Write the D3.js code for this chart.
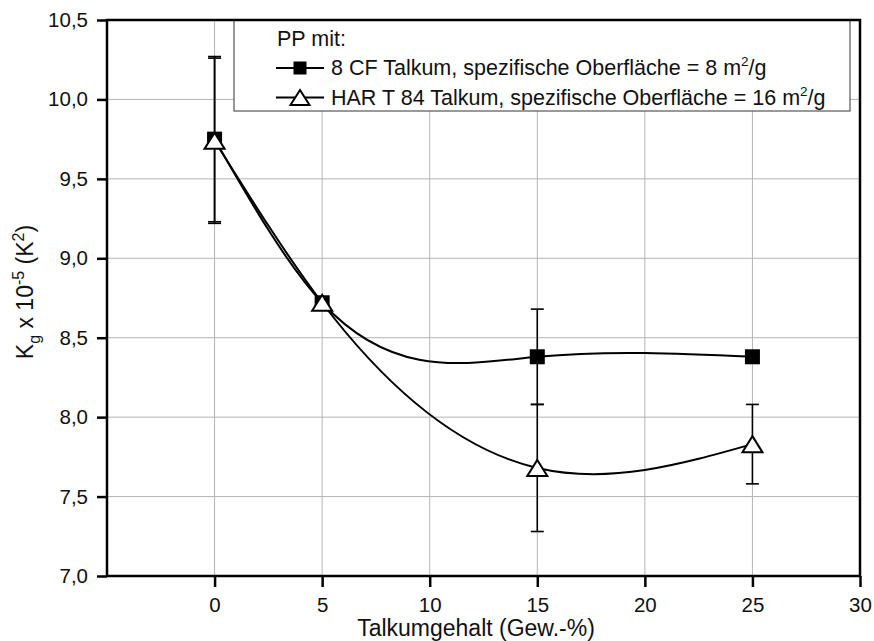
<!DOCTYPE html>
<html>
<head>
<meta charset="utf-8">
<script src="https://cdn.jsdelivr.net/npm/d3@7"></script>
<style>
  html, body { margin: 0; padding: 0; background: #fff; }
  svg { display: block; font-family: "Liberation Sans", Arial, sans-serif; }
</style>
</head>
<body>
<svg id="chart" width="874" height="641"></svg>
<script>
// ---- data ----
const xValues = [0, 5, 15, 25];
const cfValues = [9.75, 8.72, 8.38, 8.38];
const cfErrors = [0.52, 0, 0.30, 0];
const harValues = [9.74, 8.72, 7.68, 7.83];
const harErrors = [0.52, 0, 0.40, 0.25];
const xTicks = [0, 5, 10, 15, 20, 25, 30];
const yTicks = [7.0, 7.5, 8.0, 8.5, 9.0, 9.5, 10.0, 10.5];
const legendTitle = "PP mit:";
const seriesNames = ["8 CF Talkum, spezifische Oberfläche = 8 m", "HAR T 84 Talkum, spezifische Oberfläche = 16 m"];

// ---- custom curve: natural cubic spline y(x), emitted as exact Bezier segments ----
function NaturalX(context) { this._context = context; }
NaturalX.prototype = {
  areaStart() { this._line = 0; },
  areaEnd() { this._line = NaN; },
  lineStart() { this._x = []; this._y = []; },
  point(x, y) { this._x.push(+x); this._y.push(+y); },
  lineEnd() {
    const X = this._x, Y = this._y, n = X.length, c = this._context;
    if (!n) return;
    c.moveTo(X[0], Y[0]);
    if (n < 3) { for (let i = 1; i < n; i++) c.lineTo(X[i], Y[i]); return; }
    const h = [], s = [];
    for (let i = 0; i < n - 1; i++) { h.push(X[i + 1] - X[i]); s.push((Y[i + 1] - Y[i]) / h[i]); }
    const m = n - 2, a = [], b = [], cc = [], r = [];
    for (let k = 0; k < m; k++) {
      const i = k + 1;
      a.push(h[i - 1]); b.push(2 * (h[i - 1] + h[i])); cc.push(h[i]); r.push(6 * (s[i] - s[i - 1]));
    }
    for (let k = 1; k < m; k++) {
      const w = a[k] / b[k - 1];
      b[k] -= w * cc[k - 1]; r[k] -= w * r[k - 1];
    }
    const M = new Array(n).fill(0);
    for (let k = m - 1; k >= 0; k--) {
      M[k + 1] = (r[k] - (k < m - 1 ? cc[k] * M[k + 2] : 0)) / b[k];
    }
    for (let i = 0; i < n - 1; i++) {
      const d0 = s[i] - h[i] * (2 * M[i] + M[i + 1]) / 6;
      const d1 = s[i] + h[i] * (M[i] + 2 * M[i + 1]) / 6;
      c.bezierCurveTo(X[i] + h[i] / 3, Y[i] + d0 * h[i] / 3,
                      X[i + 1] - h[i] / 3, Y[i + 1] - d1 * h[i] / 3,
                      X[i + 1], Y[i + 1]);
    }
  }
};
const curveNaturalX = ctx => new NaturalX(ctx);

// ---- layout ----
const svg = d3.select("#chart");
const pLeft = 107, pRight = 860, pTop = 20, pBottom = 576;
const x = d3.scaleLinear().domain([-5, 30]).range([pLeft, pRight]);
const y = d3.scaleLinear().domain([7.0, 10.5]).range([pBottom, pTop]);
const fmt = d => d3.format(".1f")(d).replace(".", ",");

// grid
const grid = svg.append("g").attr("stroke", "#b4b4b4").attr("stroke-width", 1);
xTicks.filter(t => t < 30).forEach(t => {
  grid.append("line").attr("x1", x(t)).attr("x2", x(t)).attr("y1", pTop).attr("y2", pBottom);
});
yTicks.filter(t => t > 7 && t < 10.5).forEach(t => {
  grid.append("line").attr("x1", pLeft).attr("x2", pRight).attr("y1", y(t)).attr("y2", y(t));
});

// legend box
const lg = svg.append("g");
lg.append("rect").attr("x", 234).attr("y", pTop).attr("width", 616).attr("height", 91)
  .attr("fill", "#fff").attr("stroke", "#555").attr("stroke-width", 1.2);

// axes
const yAxis = svg.append("g").attr("transform", `translate(${pLeft},0)`)
  .call(d3.axisLeft(y).tickValues(yTicks).tickFormat(fmt).tickSize(10).tickPadding(9));
const xAxis = svg.append("g").attr("transform", `translate(0,${pBottom})`)
  .call(d3.axisBottom(x).tickValues(xTicks).tickSize(11).tickPadding(10));
[yAxis, xAxis].forEach(a => {
  a.select(".domain").remove();
  a.selectAll(".tick line").attr("stroke", "#000").attr("stroke-width", 2.5);
  a.selectAll(".tick text").attr("fill", "#111").style("font-size", "20.5px")
    .style("font-family", "'Liberation Sans', Arial, sans-serif");
});
svg.append("rect").attr("x", pLeft).attr("y", pTop).attr("width", pRight - pLeft).attr("height", pBottom - pTop)
  .attr("fill", "none").attr("stroke", "#000").attr("stroke-width", 2.5);

// lines
const line = d3.line().x(d => x(d[0])).y(d => y(d[1])).curve(curveNaturalX);
const cfPts = xValues.map((v, i) => [v, cfValues[i]]);
const harPts = xValues.map((v, i) => [v, harValues[i]]);
svg.append("path").attr("d", line(cfPts)).attr("fill", "none").attr("stroke", "#000").attr("stroke-width", 2);
svg.append("path").attr("d", line(harPts)).attr("fill", "none").attr("stroke", "#000").attr("stroke-width", 2);

// error bars
function errBars(vals, errs) {
  const g = svg.append("g").attr("stroke", "#000").attr("stroke-width", 1.6);
  xValues.forEach((xv, i) => {
    if (!errs[i]) return;
    const lo = y(vals[i] - errs[i]), hi = y(vals[i] + errs[i]), cx = x(xv);
    g.append("line").attr("x1", cx).attr("x2", cx).attr("y1", lo).attr("y2", hi);
    g.append("line").attr("x1", cx - 6.5).attr("x2", cx + 6.5).attr("y1", lo).attr("y2", lo);
    g.append("line").attr("x1", cx - 6.5).attr("x2", cx + 6.5).attr("y1", hi).attr("y2", hi);
  });
}
errBars(cfValues, cfErrors);
errBars(harValues, harErrors);

// markers
function square(g, cx, cy, s) {
  g.append("rect").attr("x", cx - s / 2).attr("y", cy - s / 2).attr("width", s).attr("height", s)
    .attr("fill", "#000");
}
function triangle(g, cx, cy, w, h) {
  g.append("path").attr("d", `M${cx},${cy - h / 2}L${cx + w / 2},${cy + h / 2}L${cx - w / 2},${cy + h / 2}Z`)
    .attr("fill", "#fff").attr("stroke", "#000").attr("stroke-width", 2).attr("stroke-linejoin", "miter");
}
const mk = svg.append("g");
cfPts.forEach(p => square(mk, x(p[0]), y(p[1]), 15));
harPts.forEach(p => triangle(mk, x(p[0]), y(p[1]), 20, 16));

// legend content
const tfont = "21.5px";
lg.append("text").attr("x", 277).attr("y", 46).style("font-size", tfont).attr("fill", "#111").text(legendTitle);
const rows = [68, 97.5];
rows.forEach((ry, i) => {
  lg.append("line").attr("x1", 276).attr("x2", 324).attr("y1", ry).attr("y2", ry)
    .attr("stroke", "#000").attr("stroke-width", 2);
  if (i === 0) square(lg, 300, ry, 13);
  else triangle(lg, 300, ry, 19, 15);
  const t = lg.append("text").attr("x", 331).attr("y", ry + 7).style("font-size", tfont).attr("fill", "#111");
  t.append("tspan").text(seriesNames[i]);
  t.append("tspan").attr("dy", -9).style("font-size", "13.5px").text("2");
  t.append("tspan").attr("dy", 9).text("/g");
});

// axis titles
svg.append("text").attr("x", 476).attr("y", 636).attr("text-anchor", "middle")
  .style("font-size", "23px").attr("fill", "#111").text("Talkumgehalt (Gew.-%)");
const yt = svg.append("text").attr("transform", "translate(33,292) rotate(-90)")
  .attr("text-anchor", "middle").style("font-size", "23px").attr("fill", "#111");
yt.append("tspan").text("K");
yt.append("tspan").attr("dy", 7).style("font-size", "16px").text("g");
yt.append("tspan").attr("dy", -7).text(" x 10");
yt.append("tspan").attr("dy", -9).style("font-size", "16px").text("-5");
yt.append("tspan").attr("dy", 9).text(" (K");
yt.append("tspan").attr("dy", -9).style("font-size", "16px").text("2");
yt.append("tspan").attr("dy", 9).text(")");
</script>
</body>
</html>
